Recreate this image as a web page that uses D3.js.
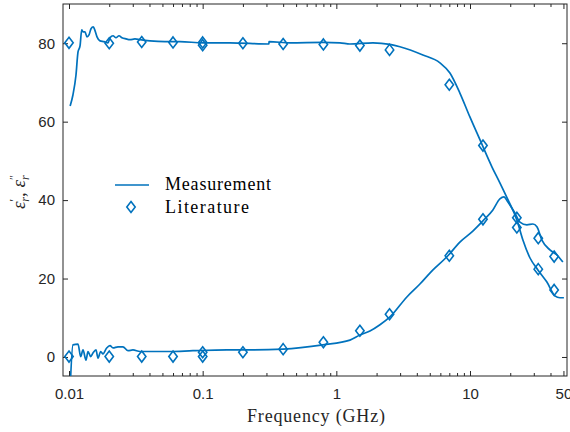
<!DOCTYPE html>
<html>
<head>
<meta charset="utf-8">
<script src="https://cdn.jsdelivr.net/npm/d3@7"></script>
<style>
  body { margin: 0; background: #fff; }
  svg { display: block; }
  .tick text { font-family: "Liberation Sans", Arial, sans-serif; font-size: 15px; fill: #262626; }
  .tick line { stroke: #262626; }
</style>
</head>
<body>
<div id="chart"></div>
<script>
// measured permittivity, real part (frequency in GHz)
const measRealFreq = [0.0102, 0.0107, 0.01128, 0.01168, 0.01209, 0.01245, 0.01273, 0.01317, 0.01363, 0.01411,
  0.01461, 0.0152, 0.01565, 0.0162, 0.01706, 0.01827, 0.01957, 0.02026, 0.02134, 0.02246, 0.02366, 0.02491,
  0.02669, 0.0286, 0.03117, 0.03397, 0.04035, 0.05224, 0.06765, 0.1005, 0.16, 0.3133, 0.3134, 0.4498, 0.7937,
  1.064, 1.264, 1.878, 2.517, 2.99, 4.44, 5.955, 7.074, 8.4, 9.98, 11.86, 14.58, 16.73, 19.21, 22.43, 24.87,
  28.05, 32.2, 37.6, 43.15, 47.0, 50.4];
const measReal = [64.0, 66.8, 71.9, 77.8, 79.3, 83.4, 82.9, 82.9, 81.6, 82.1,
  83.7, 84.2, 83.2, 81.6, 80.6, 80.4, 80.1, 81.4, 81.9, 81.4, 81.9, 81.4,
  81.1, 80.9, 81.1, 80.9, 80.6, 80.4, 80.4, 80.1, 80.1, 79.8, 80.4, 80.1, 80.2,
  80.1, 79.8, 80.1, 79.7, 79.1, 77.0, 75.0, 72.4, 67.3, 61.2, 55.4, 48.5, 44.4, 40.1, 34.9, 29.8,
  25.3, 22.2, 19.1, 15.6, 15.1, 15.1];

// measured permittivity, imaginary part
const measImagFreq = [0.0102, 0.0107, 0.01168, 0.01223, 0.01273, 0.0134, 0.01387, 0.01453, 0.0151, 0.01592,
  0.01648, 0.01726, 0.01796, 0.01914, 0.02026, 0.02134, 0.02325, 0.02534, 0.02763, 0.03011, 0.03397, 0.04249,
  0.05692, 0.08459, 0.1519, 0.2258, 0.398, 0.794, 1.264, 1.5, 1.784, 2.12, 2.517, 3.37, 4.22, 5.01, 6.83, 8.4,
  10.5, 12.49, 14.83, 16.73, 17.93, 19.21, 21.67, 23.62, 26.65, 29.55, 31.66, 34.5, 39.6, 44.7, 49.5];
const measImag = [-8, 3.1, 3.3, 0.1, 1.8, -0.8, 1.4, 0.1, 1.0, 1.8,
  -0.3, 1.4, 0.8, 2.3, 2.9, 2.3, 2.6, 2.6, 1.6, 1.8, 1.4, 1.4,
  1.4, 1.6, 1.8, 1.8, 2.0, 3.1, 4.3, 5.6, 6.6, 8.2, 10.2, 15.3, 18.6, 21.4, 25.8, 29.3,
  32.1, 34.7, 37.5, 40.3, 40.8, 39.5, 36.7, 34.4, 33.7, 33.9, 33.2, 29.8, 27.3, 26.0, 24.2];

// literature values
const litFreq = [0.01, 0.02, 0.035, 0.06, 0.1, 0.1, 0.2, 0.4, 0.8, 1.5, 2.5, 7, 12.5, 22.4, 32.4, 42.6];
const litReal = [80.1, 80.0, 80.3, 80.2, 80.2, 79.5, 80.0, 79.8, 79.7, 79.4, 78.3, 69.4, 53.9, 33.0, 22.4, 17.1];
const litImag = [0.1, 0.1, 0.1, 0.1, 1.2, 0.1, 1.2, 2.0, 3.75, 6.7, 10.9, 25.8, 35.1, 35.5, 30.3, 25.6];

const xTicks = [0.01, 0.1, 1, 10, 50];
const xTickLabels = ["0.01", "0.1", "1", "10", "50"];
const xMinorTicks = [0.02, 0.03, 0.04, 0.05, 0.06, 0.07, 0.08, 0.09, 0.2, 0.3, 0.4, 0.5, 0.6, 0.7, 0.8, 0.9,
  2, 3, 4, 5, 6, 7, 8, 9, 20, 30, 40];
const yTicks = [0, 20, 40, 60, 80];

const W = 570, H = 432;
const margin = { top: 4, right: 3, bottom: 56, left: 63 };
const width = W - margin.left - margin.right;
const height = H - margin.top - margin.bottom;
const blue = "#0072BD";
const axisColor = "#262626";
const serif = "'Liberation Serif', 'Times New Roman', serif";

const svg = d3.select("#chart").append("svg")
  .attr("width", W)
  .attr("height", H);

const g = svg.append("g")
  .attr("transform", `translate(${margin.left},${margin.top})`);

const x = d3.scaleLog().domain([0.009018, 53.16]).range([0, width]);
const y = d3.scaleLinear().domain([-4.85, 90]).range([height, 0]);

g.append("clipPath").attr("id", "clip")
  .append("rect").attr("width", width).attr("height", height);

// axes, ticks pointing inward
const fmt = d => xTickLabels[xTicks.indexOf(d)];
g.append("g").attr("transform", `translate(0,${height})`)
  .call(d3.axisBottom(x).tickValues(xTicks).tickFormat(fmt).tickSize(-5).tickPadding(12));
g.append("g").attr("transform", `translate(0,${height})`)
  .call(d3.axisBottom(x).tickValues(xMinorTicks).tickFormat("").tickSize(-3));
g.append("g")
  .call(d3.axisTop(x).tickValues(xTicks).tickFormat("").tickSize(-5));
g.append("g")
  .call(d3.axisTop(x).tickValues(xMinorTicks).tickFormat("").tickSize(-3));
g.append("g")
  .call(d3.axisLeft(y).tickValues(yTicks).tickSize(-5).tickPadding(8));
g.append("g").attr("transform", `translate(${width},0)`)
  .call(d3.axisRight(y).tickValues(yTicks).tickFormat("").tickSize(-5));
g.selectAll(".domain").remove();

g.append("rect")
  .attr("width", width).attr("height", height)
  .attr("fill", "none").attr("stroke", axisColor).attr("stroke-width", 1);

const line = d3.line()
  .x(d => x(d[0]))
  .y(d => y(d[1]))
  .curve(d3.curveMonotoneX);

const plot = g.append("g").attr("clip-path", "url(#clip)");

[[measRealFreq, measReal], [measImagFreq, measImag]].forEach(([fs, vs]) => {
  plot.append("path")
    .datum(fs.map((f, i) => [f, vs[i]]))
    .attr("fill", "none")
    .attr("stroke", blue)
    .attr("stroke-width", 1.7)
    .attr("stroke-linejoin", "round")
    .attr("d", line);
});

const diamond = "M0,-5.5L4.2,0L0,5.5L-4.2,0Z";
[litReal, litImag].forEach(vs => {
  plot.selectAll(null)
    .data(litFreq.map((f, i) => [f, vs[i]]))
    .enter()
    .append("path")
    .attr("d", diamond)
    .attr("transform", d => `translate(${x(d[0])},${y(d[1])})`)
    .attr("fill", "none")
    .attr("stroke", blue)
    .attr("stroke-width", 1.6);
});

// legend
const leg = svg.append("g");
leg.append("line")
  .attr("x1", 115).attr("x2", 149).attr("y1", 185).attr("y2", 185)
  .attr("stroke", blue).attr("stroke-width", 1.7);
leg.append("path")
  .attr("d", diamond)
  .attr("transform", "translate(131,207)")
  .attr("fill", "none").attr("stroke", blue).attr("stroke-width", 1.6);
leg.selectAll("text")
  .data([["Measurement", 190, 106], ["Literature", 213, 84]])
  .enter()
  .append("text")
  .attr("x", 165)
  .attr("y", d => d[1])
  .attr("textLength", d => d[2])
  .attr("font-family", serif)
  .attr("font-size", 18)
  .attr("fill", "#000")
  .text(d => d[0]);

// axis labels
svg.append("text")
  .attr("x", 316).attr("y", 422)
  .attr("text-anchor", "middle")
  .attr("font-family", serif)
  .attr("font-size", 18)
  .attr("textLength", 138)
  .attr("fill", "#262626")
  .text("Frequency (GHz)");

const yl = svg.append("text")
  .attr("transform", "translate(25,192) rotate(-90)")
  .attr("text-anchor", "middle")
  .attr("font-family", serif)
  .attr("font-size", 19)
  .attr("fill", "#262626");
yl.append("tspan").attr("font-style", "italic").text("ε");
yl.append("tspan").attr("font-size", 12).attr("dy", -7).text("′");
yl.append("tspan").attr("font-size", 12).attr("font-style", "italic").attr("dx", -3).attr("dy", 11).text("r");
yl.append("tspan").attr("dy", -4).text(", ");
yl.append("tspan").attr("font-style", "italic").text("ε");
yl.append("tspan").attr("font-size", 12).attr("dy", -7).text("″");
yl.append("tspan").attr("font-size", 12).attr("font-style", "italic").attr("dx", -5).attr("dy", 11).text("r");
</script>
</body>
</html>
